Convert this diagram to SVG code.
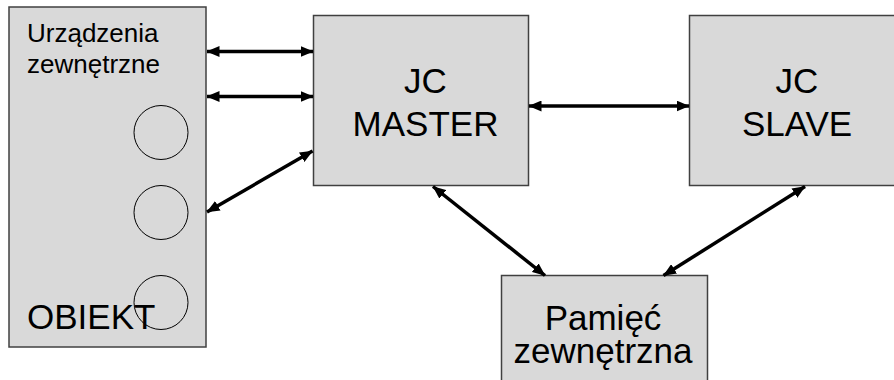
<svg xmlns="http://www.w3.org/2000/svg" width="894" height="380" viewBox="0 0 894 380">
  <style>
    .box { fill: #d9d9d9; stroke: #404040; stroke-width: 1.5; }
    .dev { fill: none; stroke: #000; stroke-width: 1; }
    .lbl { font-family: "Liberation Sans", Arial, sans-serif; fill: #000; }
    .link { stroke: #000; stroke-width: 3.5; fill: none; marker-start: url(#head); marker-end: url(#head); }
  </style>
  <defs>
    <marker id="head" viewBox="0 0 13 11" refX="12.5" refY="5.5" markerWidth="13" markerHeight="11" markerUnits="userSpaceOnUse" orient="auto-start-reverse">
      <path d="M0,0 L13,5.5 L0,11 Z" fill="#000"/>
    </marker>
  </defs>
  <rect width="894" height="380" fill="#fff"/>

  <g id="obiekt">
    <rect class="box" x="9" y="7" width="197" height="340"/>
    <text class="lbl" font-size="26" x="27" y="42">Urządzenia</text>
    <text class="lbl" font-size="26" x="27" y="73">zewnętrzne</text>
    <circle class="dev" cx="161" cy="132.5" r="27"/>
    <circle class="dev" cx="161" cy="212.5" r="27"/>
    <text class="lbl" font-size="35" x="27" y="329">OBIEKT</text>
    <circle class="dev" cx="161" cy="302.5" r="27"/>
  </g>

  <g id="master">
    <rect class="box" x="313.5" y="15.5" width="215" height="170"/>
    <text class="lbl" font-size="35" text-anchor="middle" x="425.5" y="93">JC</text>
    <text class="lbl" font-size="35" text-anchor="middle" x="425.5" y="136">MASTER</text>
  </g>

  <g id="slave">
    <rect class="box" x="689.5" y="15.5" width="220" height="170"/>
    <text class="lbl" font-size="35" text-anchor="middle" x="797" y="93">JC</text>
    <text class="lbl" font-size="35" text-anchor="middle" x="797" y="136">SLAVE</text>
  </g>

  <g id="pamiec">
    <rect class="box" x="501.5" y="275.5" width="206" height="120"/>
    <text class="lbl" font-size="35" text-anchor="middle" x="603" y="330">Pamięć</text>
    <text class="lbl" font-size="35" text-anchor="middle" x="603" y="363">zewnętrzna</text>
  </g>

  <g id="connectors">
    <line class="link" x1="207" y1="51.5" x2="313" y2="51.5"/>
    <line class="link" x1="207" y1="96.5" x2="313" y2="96.5"/>
    <line class="link" x1="207" y1="212" x2="312.5" y2="151"/>
    <line class="link" x1="529" y1="106" x2="689" y2="106"/>
    <line class="link" x1="433" y1="186.5" x2="545" y2="275.5"/>
    <line class="link" x1="805" y1="186.5" x2="663.5" y2="275.5"/>
  </g>
</svg>
